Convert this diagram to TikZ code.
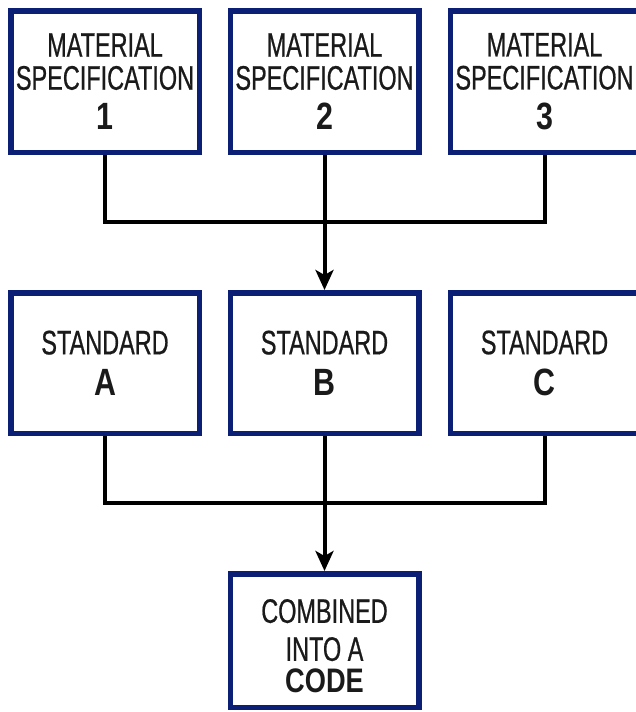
\documentclass[tikz,border=0pt]{standalone}
\usepackage{fontspec}
\setmainfont{Liberation Sans}[FakeStretch=0.69,FakeBold=0.6]
\newfontfamily\boldwide{Liberation Sans}[FakeStretch=0.8]
\usetikzlibrary{arrows.meta}
\definecolor{navy}{HTML}{0B1F75}
\definecolor{ink}{HTML}{1A1A1A}
\newcommand{\bigmark}[1]{{\boldwide\bfseries\fontsize{38}{40}\selectfont #1}}
\begin{document}
\begin{tikzpicture}[x=1pt,y=-1pt,
  box/.style={draw=navy,line width=5.5pt,fill=white,minimum width=188.5pt,
    align=center,text=ink,inner sep=0pt,
    font=\fontsize{34}{33}\selectfont},
  topbox/.style={box,minimum height=141.5pt},
  midbox/.style={box,minimum height=140.5pt},
  lowbox/.style={box,minimum height=133.5pt},
  conn/.style={line width=4pt,draw=black},
  arr/.style={conn,-{Stealth[length=20pt,width=18pt,inset=5pt]}}]
\fill[white] (0,0) rectangle (636,712);
\useasboundingbox (0,0) rectangle (636,712);
\node[topbox] (m1) at (105,81.5) {MATERIAL\\SPECIFICATION\\[7pt]\bigmark{1}};
\node[topbox] (m2) at (324.5,81.5) {MATERIAL\\SPECIFICATION\\[7pt]\bigmark{2}};
\node[topbox] (m3) at (544.5,81.5) {MATERIAL\\SPECIFICATION\\[7pt]\bigmark{3}};
\node[midbox] (sa) at (105,363) {STANDARD\\[8pt]\bigmark{A}};
\node[midbox] (sb) at (324.5,363) {STANDARD\\[8pt]\bigmark{B}};
\node[midbox] (sc) at (544.5,363) {STANDARD\\[8pt]\bigmark{C}};
\node[lowbox] (cd) at (324.5,640.5) {\rule{0pt}{35pt}COMBINED\\[5pt]INTO A\\[-1pt]{\boldwide\bfseries\fontsize{34}{36}\selectfont CODE}};
\coordinate (j1) at (324.5,222);
\coordinate (j2) at (324.5,503);
\draw[conn] (m1.south) |- (j1) -| (m3.south);
\draw[arr] (m2.south) -- (sb.north);
\draw[conn] (sa.south) |- (j2) -| (sc.south);
\draw[arr] (sb.south) -- (cd.north);
\end{tikzpicture}
\end{document}
